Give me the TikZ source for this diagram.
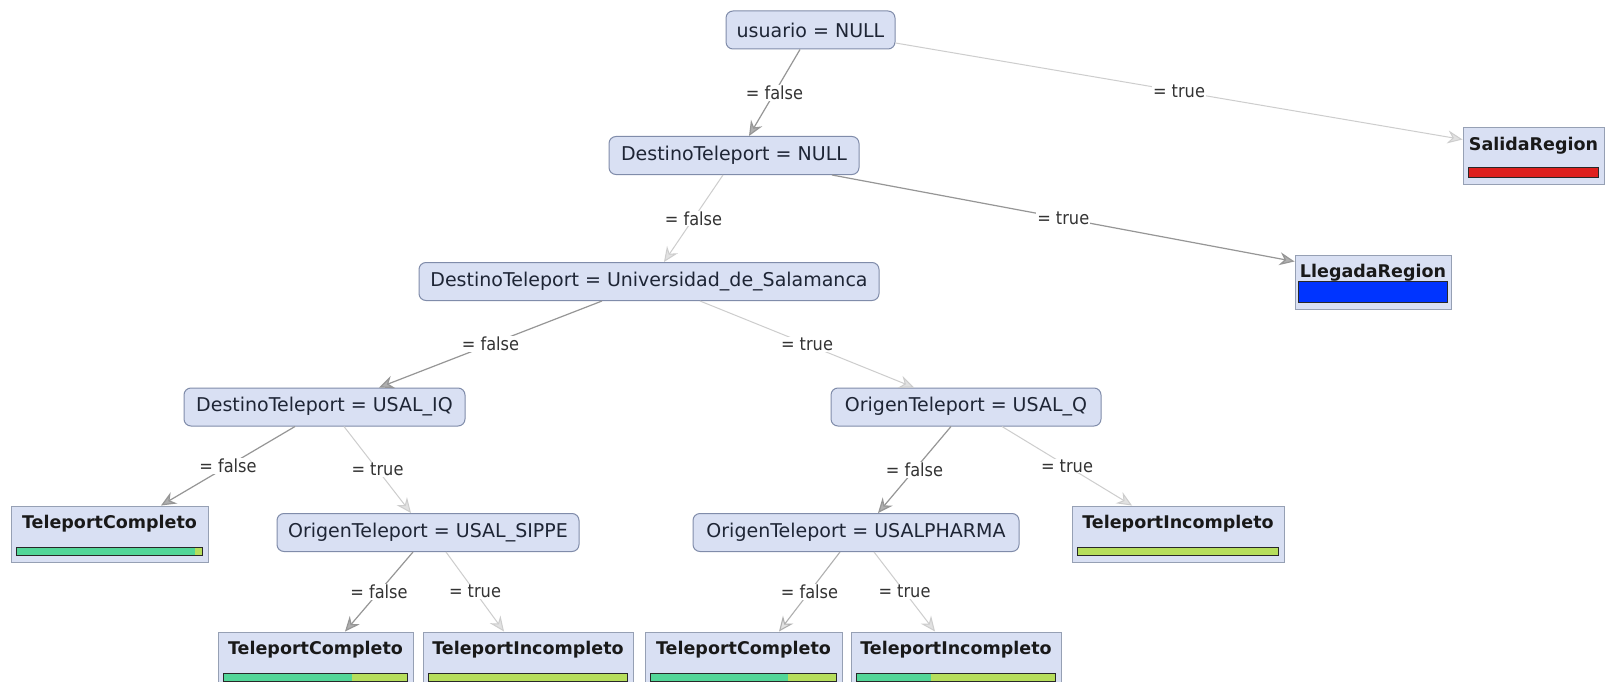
\documentclass[tikz,border=0pt]{standalone}
\usepackage{fontspec}
\setmainfont{DejaVu Sans}
\newfontfamily\edgefont[FakeStretch=0.9]{DejaVu Sans}
\usetikzlibrary{arrows.meta,calc}
\definecolor{boxfill}{RGB}{217,224,243}
\definecolor{boxline}{RGB}{128,140,170}
\definecolor{leafline}{RGB}{150,160,180}
\definecolor{nodetext}{RGB}{30,37,53}
\definecolor{darkline}{RGB}{150,150,150}
\definecolor{darkhead}{RGB}{175,175,175}
\definecolor{midline}{RGB}{175,175,175}
\definecolor{lightline}{RGB}{205,205,205}
\definecolor{lighthead}{RGB}{225,225,225}
\definecolor{greenbar}{RGB}{82,214,152}
\definecolor{yellowbar}{RGB}{182,222,92}
\definecolor{redbar}{RGB}{222,32,30}
\definecolor{bluebar}{RGB}{0,52,255}
\definecolor{barline}{RGB}{40,40,40}

\begin{document}
\begin{tikzpicture}[x=1pt,y=-1pt,
  test/.style={draw=boxline, fill=boxfill, rounded corners=7pt, line width=1pt, inner sep=0pt,
    minimum height=38pt, text=nodetext, font=\fontsize{19}{22}\selectfont},
  leaf/.style={draw=leafline, fill=boxfill, line width=1pt, inner xsep=0pt, inner ysep=4pt,
    minimum height=56pt, text height=18pt, text depth=30pt, text=black!90,
    font=\fontsize{17.5}{20}\selectfont\bfseries},
  darkedge/.style={draw=darkline, line width=1.2pt, -{Stealth[length=15pt,width=13pt,inset=5pt,fill=darkhead]}},
  midedge/.style={draw=midline, line width=1.1pt, -{Stealth[length=15pt,width=13pt,inset=5pt,fill=lighthead]}},
  lightedge/.style={draw=lightline, line width=1pt, -{Stealth[length=15pt,width=13pt,inset=5pt,fill=lighthead]}},
  lbl/.style={fill=white, inner sep=1pt, text=black!80, font=\edgefont\fontsize{18}{20}\selectfont},
  bar/.style={draw=barline, line width=1.2pt}
]
\fill[white] (0,0) rectangle (1606,682);
\useasboundingbox (0,0) rectangle (1606,682);

% tests
\node[test, minimum width=169] (root) at (810.5,30) {usuario = NULL};
\node[test, minimum width=250] (dtnull) at (734,155.5) {DestinoTeleport = NULL};
\node[test, minimum width=460] (univ) at (649,281.5) {DestinoTeleport = Universidad\_de\_Salamanca};
\node[test, minimum width=281] (iq) at (324.5,407) {DestinoTeleport = USAL\_IQ};
\node[test, minimum width=270] (q) at (966,407) {OrigenTeleport = USAL\_Q};
\node[test, minimum width=302] (sippe) at (428,532.5) {OrigenTeleport = USAL\_SIPPE};
\node[test, minimum width=326] (pharma) at (856,532.5) {OrigenTeleport = USALPHARMA};

% leaves
\node[leaf, minimum width=141] (salida) at (1533.5,156) {SalidaRegion};
\node[leaf, minimum width=156, minimum height=54pt, text depth=28pt] (llegada) at (1373,282) {LlegadaRegion};
\node[leaf, minimum width=197] (tc1) at (109.5,534) {TeleportCompleto};
\node[leaf, minimum width=212] (ti1) at (1178,534) {TeleportIncompleto};
\node[leaf, minimum width=195] (tc2) at (315.5,660) {TeleportCompleto};
\node[leaf, minimum width=210] (ti2) at (528,660) {TeleportIncompleto};
\node[leaf, minimum width=197] (tc3) at (743.5,660) {TeleportCompleto};
\node[leaf, minimum width=210] (ti3) at (956,660) {TeleportIncompleto};

% class bars
\draw[bar, fill=redbar] ($(salida.north west)+(6,40)$) rectangle ($(salida.north east)+(-6,50)$);
\draw[bar, fill=bluebar] ($(llegada.north west)+(4,27)$) rectangle ($(llegada.north east)+(-4,48)$);
\foreach \n in {tc1,ti1,tc2,ti2,tc3,ti3}
  \fill[yellowbar] ($(\n.north west)+(6,42)$) rectangle ($(\n.north east)+(-6,50)$);
\fill[greenbar] ($(tc1.north west)+(6,42)$) rectangle ($(tc1.north west)+(184,50)$);
\fill[greenbar] ($(tc2.north west)+(6,42)$) rectangle ($(tc2.north west)+(134,50)$);
\fill[greenbar] ($(tc3.north west)+(6,42)$) rectangle ($(tc3.north west)+(143,50)$);
\fill[greenbar] ($(ti3.north west)+(6,42)$) rectangle ($(ti3.north west)+(80,50)$);
\foreach \n in {tc1,ti1,tc2,ti2,tc3,ti3}
  \draw[bar] ($(\n.north west)+(6,42)$) rectangle ($(\n.north east)+(-6,50)$);

% branches
\draw[darkedge] ([xshift=-10.5]root.south) -- node[lbl]{= false} ([xshift=15]dtnull.north);
\draw[lightedge] ([yshift=-13]root.east) -- node[lbl]{= true} ([yshift=-12]salida.north west);
\draw[lightedge] ([xshift=-11]dtnull.south) -- node[lbl]{= false} ([xshift=15]univ.north);
\draw[darkedge] ([xshift=98]dtnull.south) -- node[lbl]{= true} ([yshift=-7]llegada.north west);
\draw[darkedge] ([xshift=-47]univ.south) -- node[lbl]{= false} ([xshift=54.5]iq.north);
\draw[lightedge] ([xshift=51]univ.south) -- node[lbl]{= true} ([xshift=-52]q.north);
\draw[darkedge] ([xshift=-29.5]iq.south) -- node[lbl]{= false} ([xshift=51.5]tc1.north);
\draw[lightedge] ([xshift=19.5]iq.south) -- node[lbl]{= true} ([xshift=-17]sippe.north);
\draw[darkedge] ([xshift=-15]q.south) -- node[lbl]{= false} ([xshift=22]pharma.north);
\draw[lightedge] ([xshift=36]q.south) -- node[lbl]{= true} ([xshift=-46]ti1.north);
\draw[darkedge] ([xshift=-15]sippe.south) -- node[lbl]{= false} ([xshift=29.5]tc2.north);
\draw[lightedge] ([xshift=18]sippe.south) -- node[lbl]{= true} ([xshift=-24]ti2.north);
\draw[midedge] ([xshift=-16]pharma.south) -- node[lbl]{= false} ([xshift=35.5]tc3.north);
\draw[lightedge] ([xshift=18]pharma.south) -- node[lbl]{= true} ([xshift=-21]ti3.north);
\end{tikzpicture}
\end{document}
